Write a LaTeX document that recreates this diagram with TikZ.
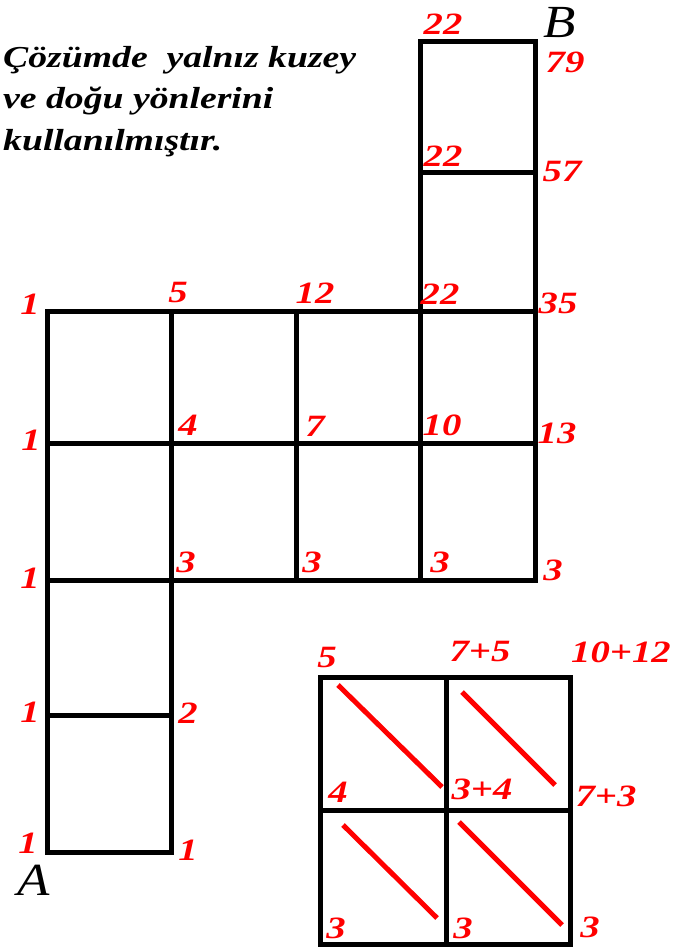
\documentclass[tikz,border=0pt]{standalone}
\usepackage{fontspec}
\usepackage{graphicx}
\setmainfont{Liberation Serif}
\newfontfamily\bifont{Liberation Serif Bold Italic}
\newfontfamily\itfont{Liberation Serif Italic}
\newcommand\wnum[1]{\scalebox{1.25}[1]{#1}}
\newcommand\wtxt[1]{\scalebox{1.3}[1.05]{#1}}
\newcommand\wpt[1]{\scalebox{1.15}[1]{#1}}
\begin{document}
\begin{tikzpicture}[x=1pt,y=-1pt,
  grid/.style={line width=5pt,line join=miter,black},
  diag/.style={line width=5pt,red},
  num/.style={text=red,font=\fontsize{31}{31}\bifont,inner sep=0pt,anchor=center},
  txt/.style={font=\fontsize{29}{41}\bifont,inner sep=0pt,anchor=base west},
  pt/.style={font=\fontsize{46}{46}\itfont,inner sep=0pt,anchor=center}]
\useasboundingbox (0,0) rectangle (682,951);
% text
\node[txt] (t1) at (3,67) {\wtxt{Çözümde\ \ yalnız kuzey}};
\node[txt] (t2) at (3,108) {\wtxt{ve doğu yönlerini}};
\node[txt] (t3) at (3,150) {\wtxt{kullanılmıştır.}};
% main grid
\draw[grid] (47,311) rectangle (535,580);
\draw[grid] (47,443) -- (535,443);
\draw[grid] (171,311) -- (171,580);
\draw[grid] (296,311) -- (296,580);
\draw[grid] (420,311) -- (420,580);
\draw[grid] (420,41) rectangle (535,311);
\draw[grid] (420,172) -- (535,172);
\draw[grid] (47,580) rectangle (171,852);
\draw[grid] (47,715) -- (171,715);
% small grid
\draw[grid] (320,677) rectangle (570,944);
\draw[grid] (446,677) -- (446,944);
\draw[grid] (320,810) -- (570,810);
\draw[diag] (338,685) -- (442,787);
\draw[diag] (462,692) -- (555,785);
\draw[diag] (343,825) -- (437,918);
\draw[diag] (459,822) -- (562,925);
% points
\node[pt] (A) at (34,880) {\wpt{A}};
\node[pt] (B) at (560,23) {\wpt{B}};
% numbers
\node[num] (n1) at (443,24) {\wnum{22}};
\node[num] (n2) at (565,62) {\wnum{79}};
\node[num] (n3) at (443,156) {\wnum{22}};
\node[num] (n4) at (562,171) {\wnum{57}};
\node[num] (n5) at (30,304) {\wnum{1}};
\node[num] (n6) at (178,292) {\wnum{5}};
\node[num] (n7) at (315,293) {\wnum{12}};
\node[num] (n8) at (440,294) {\wnum{22}};
\node[num] (n9) at (558,303) {\wnum{35}};
\node[num] (n10) at (31,440) {\wnum{1}};
\node[num] (n11) at (188,425) {\wnum{4}};
\node[num] (n12) at (315,426) {\wnum{7}};
\node[num] (n13) at (442,425) {\wnum{10}};
\node[num] (n14) at (557,433) {\wnum{13}};
\node[num] (n15) at (30,578) {\wnum{1}};
\node[num] (n16) at (186,562) {\wnum{3}};
\node[num] (n17) at (312,562) {\wnum{3}};
\node[num] (n18) at (440,562) {\wnum{3}};
\node[num] (n19) at (553,570) {\wnum{3}};
\node[num] (n20) at (30,712) {\wnum{1}};
\node[num] (n21) at (188,713) {\wnum{2}};
\node[num] (n22) at (28,843) {\wnum{1}};
\node[num] (n23) at (188,850) {\wnum{1}};
\node[num] (s1) at (327,657) {\wnum{5}};
\node[num] (s2) at (480,651) {\wnum{7+5}};
\node[num] (s3) at (621,652) {\wnum{10+12}};
\node[num] (s4) at (338,792) {\wnum{4}};
\node[num] (s5) at (482,789) {\wnum{3+4}};
\node[num] (s6) at (606,796) {\wnum{7+3}};
\node[num] (s7) at (336,928) {\wnum{3}};
\node[num] (s8) at (463,928) {\wnum{3}};
\node[num] (s9) at (590,927) {\wnum{3}};
\end{tikzpicture}
\end{document}
